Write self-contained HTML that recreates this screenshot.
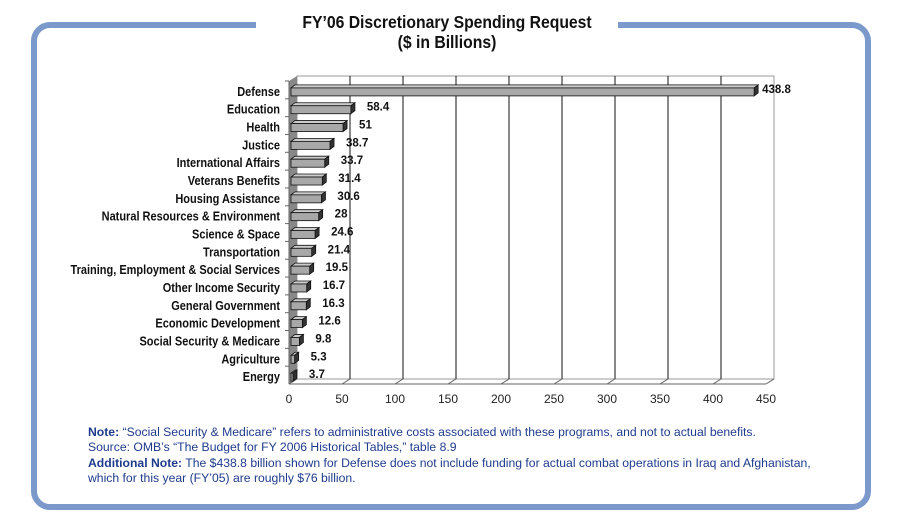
<!DOCTYPE html>
<html><head><meta charset="utf-8"><style>
body{margin:0;background:#fff;width:917px;height:519px;overflow:hidden}
svg{display:block}
.lab{font-family:"Liberation Sans",sans-serif;font-weight:bold;font-size:12.5px;fill:#111}
.val{font-family:"Liberation Sans",sans-serif;font-weight:bold;font-size:11.5px;fill:#111}
.tick{font-family:"Liberation Sans",sans-serif;font-size:12px;fill:#222}
.note{font-family:"Liberation Sans",sans-serif;font-size:12.2px;fill:#1f3c8c}
</style></head><body>
<svg id="s" width="917" height="519" viewBox="0 0 917 519">
<rect x="34" y="25" width="834" height="482" rx="16" fill="none" stroke="#7b9acb" stroke-width="6"/>
<rect x="256" y="14" width="362" height="20" fill="#fff"/>
<text transform="translate(447,28) scale(0.9,1)" text-anchor="middle" font-family="Liberation Sans,sans-serif" font-weight="bold" font-size="17.5" fill="#111">FY’06 Discretionary Spending Request</text>
<text transform="translate(447,48) scale(0.9,1)" text-anchor="middle" font-family="Liberation Sans,sans-serif" font-weight="bold" font-size="17.5" fill="#111">($ in Billions)</text>
<g id="plot"></g>
<text x="88" y="436" class="note"><tspan font-weight="bold">Note:</tspan> “Social Security &amp; Medicare” refers to administrative costs associated with these programs, and not to actual benefits.</text>
<text x="88" y="451" class="note">Source: OMB’s “The Budget for FY 2006 Historical Tables,” table 8.9</text>
<text x="88" y="467" class="note"><tspan font-weight="bold">Additional Note:</tspan> The $438.8 billion shown for Defense does not include funding for actual combat operations in Iraq and Afghanistan,</text>
<text x="88" y="482" class="note">which for this year (FY’05) are roughly $76 billion.</text>
</svg>
<script>
const categories=["Defense","Education","Health","Justice","International Affairs","Veterans Benefits","Housing Assistance","Natural Resources & Environment","Science & Space","Transportation","Training, Employment & Social Services","Other Income Security","General Government","Economic Development","Social Security & Medicare","Agriculture","Energy"];
const values=[438.8,58.4,51,38.7,33.7,31.4,30.6,28,24.6,21.4,19.5,16.7,16.3,12.6,9.8,5.3,3.7];
const valueLabels=["438.8","58.4","51","38.7","33.7","31.4","30.6","28","24.6","21.4","19.5","16.7","16.3","12.6","9.8","5.3","3.7"];
const ticks=[0,50,100,150,200,250,300,350,400,450];
const NS="http://www.w3.org/2000/svg",g=document.getElementById('plot');
const x0=289,sc=477/450,dx=8,dy=-5,yTop=81,yBot=384,rowH=(yBot-yTop)/categories.length;
const X=v=>x0+v*sc, Y=i=>yTop+rowH*(i+0.5);
function el(t,a,p){const e=document.createElementNS(NS,t);for(const k in a)e.setAttribute(k,a[k]);(p||g).appendChild(e);return e;}
let w=el('rect',{x:x0+dx,y:yTop+dy,width:450*sc,height:yBot-yTop,fill:'#fff',stroke:'#999','stroke-width':1});


let lw=el('polygon',{points:`${x0},${yTop} ${x0+dx},${yTop+dy} ${x0+dx},${yBot+dy} ${x0},${yBot}`,fill:'#888'});


ticks.forEach((t,k)=>{
  if(k>0&&k<ticks.length-1){const l=el('line',{x1:X(t)+dx,y1:yTop+dy,x2:X(t)+dx,y2:yBot+dy,stroke:'#111','stroke-width':1});
  
  }
  const f=el('line',{x1:X(t),y1:yBot,x2:X(t)+dx,y2:yBot+dy,stroke:'#666'});
  
  
  const tx=el('text',{x:X(t),y:yBot+19,'text-anchor':'middle',class:'tick'});tx.textContent=t;
  
  
});
const ax=el('line',{x1:x0,y1:yBot,x2:X(450),y2:yBot,stroke:'#666'});


const ay=el('line',{x1:x0,y1:yTop,x2:x0,y2:yBot,stroke:'#666'});


categories.forEach((c,i)=>{
  const y=Y(i),bh=8,bx=x0+2,ex=X(values[i]),by=y-bh/2+2,d=4;
  const tk=el('line',{x1:x0-4,y1:yTop+rowH*i,x2:x0,y2:yTop+rowH*i,stroke:'#666'});
  
  
  const bar=el('g',{});
  
  
  el('polygon',{points:`${bx},${by} ${bx+d},${by-d+1} ${ex+d},${by-d+1} ${ex},${by}`,fill:'#ccc',stroke:'#111','stroke-width':0.8},bar);
  el('polygon',{points:`${ex},${by} ${ex+d},${by-d+1} ${ex+d},${by+bh-d+1} ${ex},${by+bh}`,fill:'#333',stroke:'#111','stroke-width':0.8},bar);
  el('rect',{x:bx,y:by,width:Math.max(ex-bx,2),height:bh,fill:'#a8a8a8',stroke:'#111','stroke-width':0.8},bar);
  const l=el('text',{transform:`translate(${x0-9},${y+6}) scale(0.88,1)`,'text-anchor':'end',class:'lab'});l.textContent=c;
  
  
  const v=el('text',{x:ex+(i==0?8:16),y:y+3,class:'val'});v.textContent=valueLabels[i];
  
  
});
</script>
</body></html>
